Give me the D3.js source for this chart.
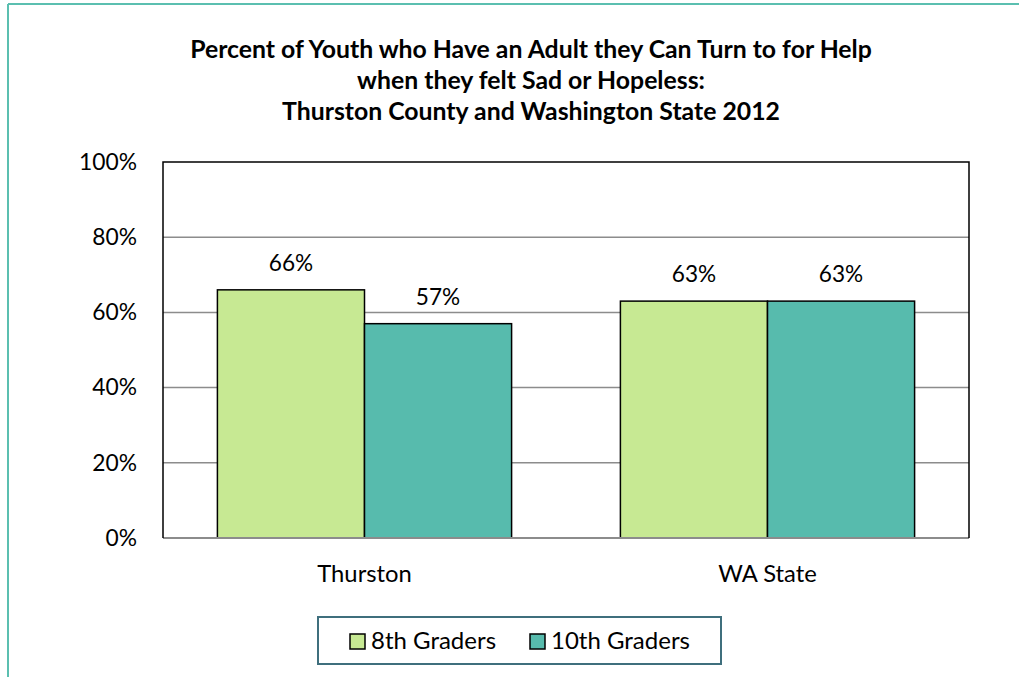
<!DOCTYPE html>
<html><head><meta charset="utf-8">
<script src="https://cdn.jsdelivr.net/npm/d3@7"></script>
<style>body{margin:0;background:#fff}svg{display:block}</style>
</head><body>
<script>
const categories = ["Thurston", "WA State"];
const seriesNames = ["8th Graders", "10th Graders"];
const grade8 = [66, 63];
const grade10 = [57, 63];
const yTicks = [0, 20, 40, 60, 80, 100];
const titleLines = ["Percent of Youth who Have an Adult they Can Turn to for Help", "when they felt Sad or Hopeless:", "Thurston County and Washington State 2012"];
const colors = ["#c7e993", "#57bbad"];

const W = 1019, H = 677;
const font = "Lato, 'Open Sans', sans-serif";
const svg = d3.select("body").append("svg").attr("width", W).attr("height", H);

// outer frame (left and top edges visible)
svg.append("line").attr("x1", 8).attr("x2", 8).attr("y1", 4).attr("y2", H).attr("stroke", "#5bbfb0").attr("stroke-width", 2);
svg.append("line").attr("x1", 8).attr("x2", W).attr("y1", 4).attr("y2", 4).attr("stroke", "#5bbfb0").attr("stroke-width", 2);

const m = {l: 163, r: 969, t: 162, b: 538};
const x0 = d3.scaleBand().domain(categories).range([m.l, m.r]).paddingInner(0.27).paddingOuter(0.135);
const x1 = d3.scaleBand().domain(seriesNames).range([0, x0.bandwidth()]);
const y = d3.scaleLinear().domain([0, 100]).range([m.b, m.t]);

// title
svg.append("text").attr("text-anchor", "middle").attr("font-family", font).attr("font-weight", "bold").attr("font-size", 24.8).attr("fill", "#000")
  .selectAll("tspan").data(titleLines).join("tspan").attr("x", 531).attr("y", (d, i) => 58 + i * 31).text(d => d);

// grid
svg.append("g").selectAll("line").data(yTicks.filter(t => t > 0 && t < 100)).join("line")
  .attr("x1", m.l).attr("x2", m.r).attr("y1", d => y(d)).attr("y2", d => y(d)).attr("stroke", "#8c8c8c").attr("stroke-width", 1.5);

// y axis labels
const yAxis = d3.axisLeft(y).tickValues(yTicks).tickFormat(d => d + "%").tickSize(0).tickPadding(26);
const ga = svg.append("g").attr("transform", `translate(${m.l},0)`).call(yAxis);
ga.select(".domain").remove();
ga.selectAll("text").attr("font-family", font).attr("font-size", 22.8).attr("fill", "#000");

// bars
const data = categories.map((c, i) => ({cat: c, vals: [grade8[i], grade10[i]]}));
const groups = svg.append("g").selectAll("g").data(data).join("g").attr("transform", d => `translate(${x0(d.cat)},0)`);
groups.selectAll("rect").data(d => d.vals.map((v, j) => ({v, s: seriesNames[j], j}))).join("rect")
  .attr("x", d => x1(d.s)).attr("width", x1.bandwidth())
  .attr("y", d => y(d.v)).attr("height", d => y(0) - y(d.v))
  .attr("fill", d => colors[d.j]).attr("stroke", "#000").attr("stroke-width", 1.5);
groups.selectAll("text").data(d => d.vals.map((v, j) => ({v, s: seriesNames[j]}))).join("text")
  .attr("x", d => x1(d.s) + x1.bandwidth() / 2).attr("y", d => y(d.v) - 19)
  .attr("text-anchor", "middle").attr("font-family", font).attr("font-size", 22.6).attr("fill", "#000").text(d => d.v + "%");

// plot border
svg.append("line").attr("x1", m.l).attr("x2", m.r).attr("y1", m.b).attr("y2", m.b).attr("stroke", "#8c8c8c").attr("stroke-width", 2);
svg.append("path").attr("d", `M${m.l},${m.b}V${m.t}H${m.r}V${m.b}`).attr("fill", "none").attr("stroke", "#000").attr("stroke-width", 1.5);

// x labels
const xAxis = d3.axisBottom(x0).tickSize(0).tickPadding(27);
const gx = svg.append("g").attr("transform", `translate(0,${m.b})`).call(xAxis);
gx.select(".domain").remove();
gx.selectAll("text").attr("font-family", font).attr("font-size", 23.8).attr("fill", "#000");

// legend
const lg = svg.append("g");
lg.append("rect").attr("x", 318).attr("y", 617).attr("width", 403).attr("height", 47).attr("fill", "#fff").attr("stroke", "#3f6f7d").attr("stroke-width", 2);
const items = [{x: 350}, {x: 530}];
seriesNames.forEach((s, i) => {
  lg.append("rect").attr("x", items[i].x).attr("y", 634).attr("width", 15).attr("height", 15).attr("fill", colors[i]).attr("stroke", "#000").attr("stroke-width", 1.5);
  lg.append("text").attr("x", items[i].x + 21).attr("y", 649).attr("font-family", font).attr("font-size", 24).attr("fill", "#000").text(s);
});
</script>
</body></html>
